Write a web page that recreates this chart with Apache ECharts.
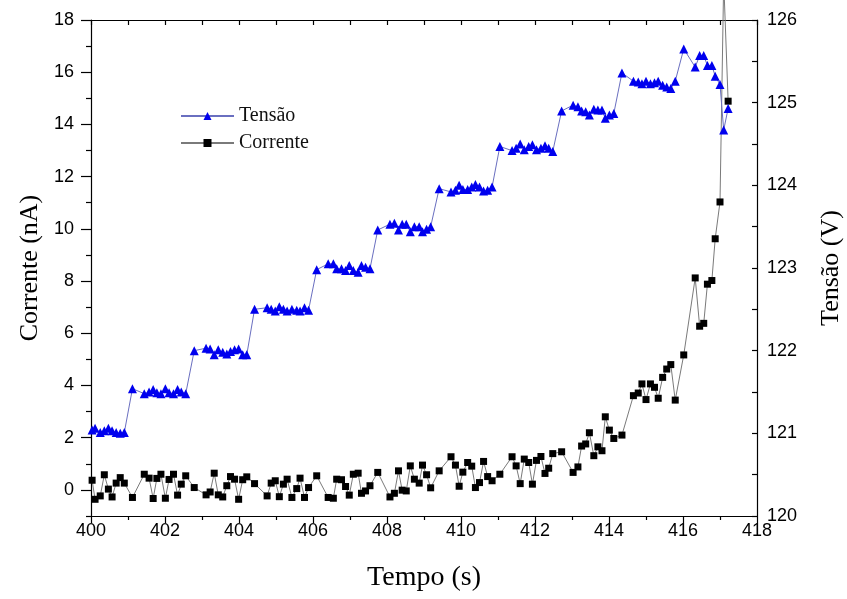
<!DOCTYPE html>
<html>
<head>
<meta charset="utf-8">
<script src="https://cdn.jsdelivr.net/npm/echarts@6/dist/echarts.min.js"></script>
<style>
  html, body { margin: 0; padding: 0; background: #fff; }
  #chart { width: 847px; height: 599px; }
</style>
</head>
<body>
<div id="chart"></div>
<script>
// tempo (s) - mesmo instante para as duas series
var tempo = [
  400.03, 400.11, 400.25, 400.36, 400.47, 400.57, 400.68, 400.79, 400.90,
  401.12,
  401.44, 401.57, 401.68, 401.78, 401.89, 402.01, 402.11, 402.23, 402.34, 402.44, 402.56,
  402.79,
  403.11, 403.22, 403.33, 403.44, 403.56, 403.67, 403.77, 403.88, 403.99, 404.10, 404.21,
  404.42,
  404.76, 404.87, 404.98, 405.09, 405.20, 405.30, 405.43, 405.56, 405.65, 405.77, 405.88,
  406.10,
  406.41, 406.55, 406.64, 406.77, 406.88, 406.98, 407.09, 407.22, 407.31, 407.42, 407.54,
  407.75,
  408.08, 408.20, 408.31, 408.41, 408.52, 408.63, 408.74, 408.87, 408.96, 409.07, 409.18,
  409.41,
  409.73, 409.85, 409.95, 410.05, 410.18, 410.29, 410.39, 410.50, 410.61, 410.72, 410.84,
  411.05,
  411.38, 411.49, 411.60, 411.71, 411.83, 411.93, 412.04, 412.16, 412.27, 412.37, 412.48,
  412.72,
  413.03, 413.16, 413.26, 413.37, 413.47, 413.59, 413.70, 413.81, 413.90, 414.01, 414.13,
  414.35,
  414.66, 414.79, 414.89, 415.00, 415.12, 415.23, 415.33, 415.45, 415.56, 415.67, 415.79,
  416.02, 416.33, 416.45, 416.56, 416.66, 416.78, 416.87, 417.00, 417.10, 417.22
];

// Tensão (V)
var tensao = [
  121.04, 121.06, 121.01, 121.03, 121.06, 121.03, 121.01, 121.00, 121.01,
  121.54,
  121.48, 121.50, 121.53, 121.49, 121.48, 121.54, 121.49, 121.48, 121.53, 121.50, 121.48,
  122.00,
  122.03, 122.02, 121.95, 122.01, 121.98, 121.96, 121.99, 122.01, 122.02, 121.95, 121.95,
  122.50,
  122.52, 122.50, 122.48, 122.53, 122.50, 122.48, 122.50, 122.49, 122.48, 122.52, 122.49,
  122.98,
  123.05, 123.05, 122.99, 122.99, 122.97, 123.03, 122.97, 122.95, 123.03, 123.01, 122.99,
  123.46,
  123.53, 123.54, 123.46, 123.53, 123.53, 123.44, 123.50, 123.50, 123.44, 123.47, 123.50,
  123.96,
  123.92, 123.94, 124.00, 123.95, 123.95, 123.98, 124.01, 123.98, 123.93, 123.94, 123.98,
  124.47,
  124.42, 124.45, 124.50, 124.43, 124.47, 124.49, 124.43, 124.45, 124.48, 124.45, 124.41,
  124.90,
  124.97, 124.95, 124.90, 124.89, 124.85, 124.92, 124.91, 124.91, 124.81, 124.85, 124.87,
  125.36,
  125.26, 125.25, 125.23, 125.26, 125.23, 125.24, 125.26, 125.21, 125.19, 125.17, 125.26,
  125.65, 125.43, 125.57, 125.57, 125.45, 125.45, 125.32, 125.22, 124.67, 124.93
];

// Corrente (nA)
var corrente = [
  0.37, -0.36, -0.23, 0.58, 0.03, -0.27, 0.26, 0.47, 0.26,
  -0.29,
  0.60, 0.45, -0.33, 0.44, 0.60, -0.32, 0.40, 0.60, -0.20, 0.22, 0.54,
  0.09,
  -0.19, -0.08, 0.64, -0.19, -0.27, 0.16, 0.51, 0.41, -0.36, 0.39, 0.50,
  0.24,
  -0.23, 0.26, 0.35, -0.26, 0.22, 0.41, -0.29, 0.05, 0.45, -0.29, 0.09,
  0.54,
  -0.29, -0.32, 0.41, 0.39, 0.13, -0.20, 0.60, 0.64, -0.13, -0.04, 0.16,
  0.67,
  -0.27, -0.13, 0.73, -0.01, -0.04, 0.92, 0.41, 0.26, 0.95, 0.58, 0.08,
  0.73,
  1.27, 0.95, 0.14, 0.68, 1.05, 0.91, 0.09, 0.28, 1.09, 0.51, 0.35,
  0.60,
  1.27, 0.92, 0.24, 1.18, 1.05, 0.22, 1.13, 1.28, 0.63, 0.83, 1.39,
  1.46,
  0.67, 0.88, 1.68, 1.76, 2.19, 1.31, 1.65, 1.50, 2.80, 2.29, 1.97,
  2.10,
  3.61, 3.71, 4.06, 3.46, 4.06, 3.93, 3.51, 4.31, 4.63, 4.80, 3.44,
  5.17, 8.12, 6.27, 6.38, 7.88, 8.02, 9.62, 11.03, 19.5, 14.89
];

var ticksCorrente = [0, 2, 4, 6, 8, 10, 12, 14, 16, 18];
var ticksMenores = [-1, 1, 3, 5, 7, 9, 11, 13, 15, 17];

var serieTensao = tempo.map(function (t, i) { return [t, tensao[i]]; });
var serieCorrente = tempo.map(function (t, i) { return [t, corrente[i]]; });

var chart = echarts.init(document.getElementById('chart'), null, { renderer: 'canvas' });

var sans = 'Liberation Sans, Arial, sans-serif';
var serif = 'Liberation Serif, Times New Roman, serif';
var preto = { color: '#000', width: 1.2 };

var option = {
  animation: false,
  backgroundColor: '#fff',
  grid: { left: 91, right: 90, top: 20, bottom: 83, containLabel: false, outerBoundsMode: 'none' },
  legend: {
    orient: 'vertical',
    left: 175,
    top: 101,
    itemWidth: 53,
    itemHeight: 10,
    itemGap: 7,
    textStyle: { fontFamily: serif, fontSize: 20, color: '#111' },
    data: ['Tensão', 'Corrente']
  },
  xAxis: [
    {
      type: 'value',
      position: 'bottom',
      min: 400, max: 418, interval: 2,
      name: 'Tempo (s)',
      nameLocation: 'middle',
      nameGap: 48,
      nameTextStyle: { fontFamily: serif, fontSize: 28, color: '#000' },
      axisLine: { onZero: false, lineStyle: preto },
      axisTick: { length: 7, lineStyle: preto },
      minorTick: { show: true, splitNumber: 2, length: 4, lineStyle: preto },
      axisLabel: { fontFamily: sans, fontSize: 18, color: '#000', margin: 6 },
      splitLine: { show: false }
    },
    {
      type: 'value',
      position: 'top',
      min: 400, max: 418, interval: 1,
      axisLine: { show: true, onZero: false, lineStyle: preto },
      axisTick: { show: true, inside: true, length: 5, lineStyle: preto },
      axisLabel: { show: false },
      splitLine: { show: false }
    }
  ],
  yAxis: [
    {
      type: 'value',
      position: 'left',
      min: -1, max: 18,
      name: 'Corrente (nA)',
      nameLocation: 'middle',
      nameGap: 47,
      nameTextStyle: { fontFamily: serif, fontSize: 26, color: '#000' },
      axisLine: { show: true, onZero: false, lineStyle: preto },
      axisTick: { show: true, length: 10, customValues: ticksCorrente, lineStyle: preto },
      axisLabel: { fontFamily: sans, fontSize: 18, color: '#000', margin: 17, customValues: ticksCorrente },
      splitLine: { show: false }
    },
    {
      type: 'value',
      position: 'right',
      min: 120, max: 126, interval: 1,
      name: 'Tensão (V)',
      nameLocation: 'middle',
      nameGap: 61,
      nameTextStyle: { fontFamily: serif, fontSize: 26, color: '#000' },
      axisLine: { show: true, onZero: false, lineStyle: preto },
      axisTick: { show: true, inside: true, length: 5, lineStyle: preto },
      minorTick: { show: true, splitNumber: 2, length: 5, lineStyle: preto },
      axisLabel: { fontFamily: sans, fontSize: 18, color: '#000', margin: 10 },
      splitLine: { show: false }
    },
    {
      // ticks menores do eixo da corrente
      type: 'value',
      position: 'left',
      min: -1, max: 18,
      axisLine: { show: false, onZero: false },
      axisTick: { show: true, length: 5, customValues: ticksMenores, lineStyle: preto },
      axisLabel: { show: false },
      splitLine: { show: false }
    }
  ],
  series: [
    {
      name: 'Tensão',
      type: 'line',
      xAxisIndex: 0,
      yAxisIndex: 1,
      data: serieTensao,
      symbol: 'triangle',
      symbolSize: 9,
      itemStyle: { color: '#0000ee' },
      lineStyle: { color: '#6a6fc0', width: 1 },
      z: 3
    },
    {
      name: 'Corrente',
      type: 'line',
      xAxisIndex: 0,
      yAxisIndex: 0,
      data: serieCorrente,
      symbol: 'rect',
      symbolSize: 7,
      clip: false,
      itemStyle: { color: '#000' },
      lineStyle: { color: '#7a7a7a', width: 1 },
      z: 2
    }
  ]
};

chart.setOption(option);
</script>
</body>
</html>
